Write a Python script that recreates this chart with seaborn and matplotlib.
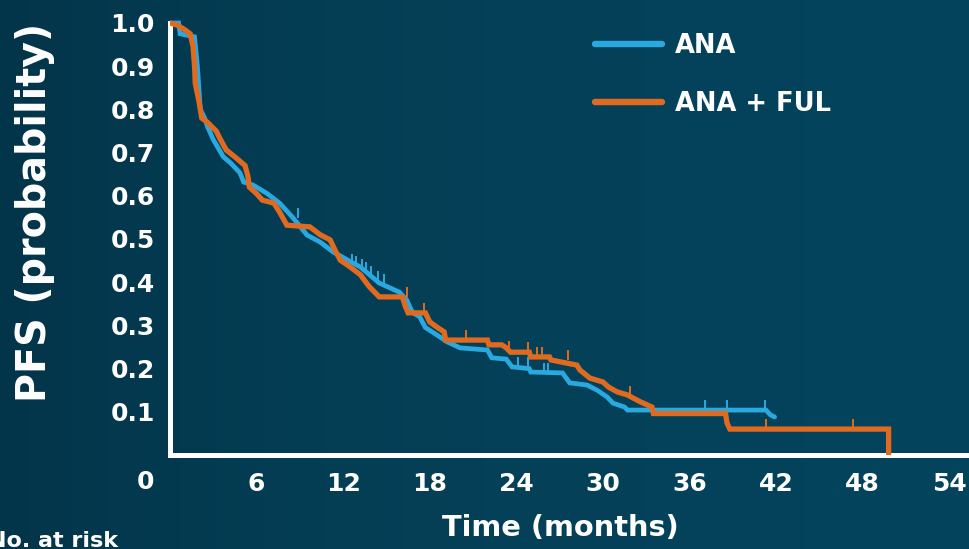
import numpy as np
import pandas as pd
import matplotlib
matplotlib.use("Agg")
import matplotlib.pyplot as plt
import seaborn as sns
from matplotlib.colors import LinearSegmentedColormap

# ---------------- data ----------------
ana_t = [0, 0.6, 0.7, 1.7, 1.9, 2.1, 2.4, 2.6, 3.0, 3.7, 4.2, 4.85, 5.1, 5.75, 6.7,
         7.6, 8.5, 9.5, 10.4, 11.3, 13.2, 14.5, 15.9, 16.4, 16.8, 17.3, 17.7, 18.4,
         19.2, 20.1, 22.0, 22.3, 23.3, 23.7, 24.9, 25.0, 27.2, 27.7, 28.9, 29.6,
         30.3, 30.7, 31.5, 31.7, 41.3, 41.6, 41.9]
ana_s = [1.0, 1.0, 0.975, 0.968, 0.90, 0.80, 0.78, 0.76, 0.73, 0.69, 0.676, 0.653,
         0.632, 0.625, 0.606, 0.583, 0.55, 0.509, 0.493, 0.47, 0.435, 0.398, 0.377,
         0.359, 0.33, 0.32, 0.295, 0.28, 0.262, 0.248, 0.243, 0.225, 0.222, 0.204,
         0.20, 0.192, 0.19, 0.167, 0.162, 0.15, 0.134, 0.12, 0.111, 0.104, 0.104,
         0.093, 0.088]

ful_t = [0, 0.5, 1.0, 1.4, 1.6, 1.7, 1.75, 2.0, 2.2, 2.6, 3.2, 3.5, 3.9, 4.5, 5.2,
         5.4, 5.5, 6.0, 6.4, 7.2, 7.6, 8.1, 9.7, 10.4, 11.1, 11.5, 11.8, 12.5, 13.2,
         13.8, 14.5, 16.1, 16.3, 16.5, 17.7, 18.0, 18.5, 19.0, 19.1, 22.0, 22.1,
         23.0, 23.3, 23.6, 24.9, 25.0, 26.3, 26.4, 27.9, 28.2, 28.4, 29.1, 30.0,
         30.4, 31.0, 31.7, 32.6, 33.4, 33.5, 38.5, 38.6, 38.8, 49.8, 49.8]
ful_s = [1.0, 0.995, 0.985, 0.975, 0.945, 0.90, 0.86, 0.82, 0.78, 0.77, 0.75, 0.73,
         0.706, 0.69, 0.67, 0.645, 0.62, 0.605, 0.59, 0.583, 0.562, 0.532, 0.528,
         0.51, 0.498, 0.47, 0.451, 0.435, 0.417, 0.39, 0.366, 0.366, 0.345, 0.329,
         0.329, 0.308, 0.296, 0.285, 0.266, 0.266, 0.255, 0.255, 0.248, 0.238,
         0.238, 0.227, 0.227, 0.22, 0.21, 0.208, 0.197, 0.178, 0.169, 0.157, 0.146,
         0.139, 0.123, 0.111, 0.096, 0.096, 0.074, 0.06, 0.06, 0.0]

ana_cens_t = [8.9, 12.6, 12.9, 13.3, 13.6, 13.9, 14.4, 14.8, 24.1, 24.8, 25.9, 26.2,
              37.1, 38.6, 41.2]
ana_cens_s = [0.548, 0.443, 0.438, 0.430, 0.423, 0.415, 0.402, 0.395, 0.204, 0.204,
              0.19, 0.19, 0.104, 0.104, 0.104]
ful_cens_t = [16.4, 17.6, 20.5, 23.5, 24.8, 25.4, 25.8, 27.6, 31.9, 41.3, 47.3]
ful_cens_s = [0.366, 0.329, 0.266, 0.24, 0.238, 0.227, 0.227, 0.22, 0.137, 0.06, 0.06]

x_ticks = [6, 12, 18, 24, 30, 36, 42, 48, 54]
y_ticks = [0.1, 0.2, 0.3, 0.4, 0.5, 0.6, 0.7, 0.8, 0.9, 1.0]
labels = ["ANA", "ANA + FUL"]

# ---------------- style ----------------
BLUE = "#2aa9e0"
ORANGE = "#e06b20"
BG = "#033f56"
FONT = ["DejaVu Sans"]

sns.set_style("white")
plt.rcParams["font.family"] = FONT
plt.rcParams["font.weight"] = "bold"

fig = plt.figure(figsize=(9.69, 5.49), dpi=100)
fig.patch.set_facecolor(BG)

# background gradient
bg_ax = fig.add_axes([0, 0, 1, 1], zorder=-10)
grad = np.linspace(0, 1, 256)[None, :]
cmap = LinearSegmentedColormap.from_list("bg", ["#03354a", "#043e55", "#04425a", "#03445c"])
bg_ax.imshow(grad, aspect="auto", cmap=cmap, extent=[0, 1, 0, 1])
bg_ax.set_axis_off()

W, H = 969, 549
x0_px, x_per = 170, 14.43
y0_px, y_per = 455, 432
ax_left = x0_px / W
ax_bottom = 1 - y0_px / H
xmax = (W - x0_px) / x_per
ymax = 1.02
ax_h = ymax * y_per / H
ax = fig.add_axes([ax_left, ax_bottom, 1 - ax_left, ax_h])
ax.set_facecolor("none")

df_ana = pd.DataFrame({"t": ana_t, "s": ana_s})
df_ful = pd.DataFrame({"t": ful_t, "s": ful_s})

sns.lineplot(data=df_ana, x="t", y="s", ax=ax, color=BLUE, lw=3.4, sort=False,
             estimator=None, label=labels[0], solid_joinstyle="miter", zorder=3)
sns.lineplot(data=df_ful, x="t", y="s", ax=ax, color=ORANGE, lw=3.8, sort=False,
             estimator=None, label=labels[1], solid_joinstyle="miter", zorder=4)

tick_marker = [(0, 0), (0, 1)]
ax.plot(ana_cens_t, ana_cens_s, ls="none", marker=tick_marker, ms=14, mew=1.4,
        color=BLUE, zorder=3)
ax.plot(ful_cens_t, ful_cens_s, ls="none", marker=tick_marker, ms=14, mew=1.4,
        color=ORANGE, zorder=4)

ax.set_xlim(0, xmax)
ax.set_ylim(0, ymax)
ax.set_xticks(x_ticks)
ax.set_yticks(y_ticks)
ax.set_xticklabels([str(v) for v in x_ticks])
ax.set_yticklabels([f"{v:.1f}" for v in y_ticks])

for side in ["top", "right"]:
    ax.spines[side].set_visible(False)
for side in ["left", "bottom"]:
    ax.spines[side].set_color("white")
    ax.spines[side].set_linewidth(3.6)
    ax.spines[side].set_capstyle("projecting")
ax.spines["left"].set_bounds(0, 1.0)

ax.tick_params(axis="both", colors="white", width=3.2, direction="out",
               labelsize=18, labelcolor="white")
ax.tick_params(axis="x", length=6, pad=6)
ax.tick_params(axis="y", length=7, pad=4)
for lab in ax.get_xticklabels() + ax.get_yticklabels():
    lab.set_fontweight("bold")

ax.set_xlabel("Time (months)", fontsize=20.8, fontweight="bold", color="white", va="center")
ax.xaxis.set_label_coords((560 - x0_px) / (W - x0_px), (y0_px - 528) / (ymax * y_per))
ax.set_ylabel("PFS (probability)", fontsize=28.5, fontweight="bold", color="white", va="center")
ax.yaxis.set_label_coords((35 - x0_px) / (W - x0_px), (y0_px - 212) / (ymax * y_per))

fig.text(145 / W, 1 - 482 / H, "0", ha="center", va="center", color="white",
         fontsize=18, fontweight="bold")
fig.text(-12 / W, 1 - 547 / H, "No. at risk", ha="left", va="baseline", color="white",
         fontsize=16, fontweight="bold")

leg = ax.legend(loc="upper left", bbox_to_anchor=(595 / W, 1 - 33 / H),
                bbox_transform=fig.transFigure, frameon=False, fontsize=18.5,
                handlelength=2.6, handletextpad=0.5, labelspacing=1.25,
                borderpad=0, borderaxespad=0)
for txt in leg.get_texts():
    txt.set_color("white")
    txt.set_fontweight("bold")
for line in leg.get_lines():
    line.set_linewidth(4.6)

fig.savefig("out.png", dpi=100, facecolor=fig.get_facecolor())
